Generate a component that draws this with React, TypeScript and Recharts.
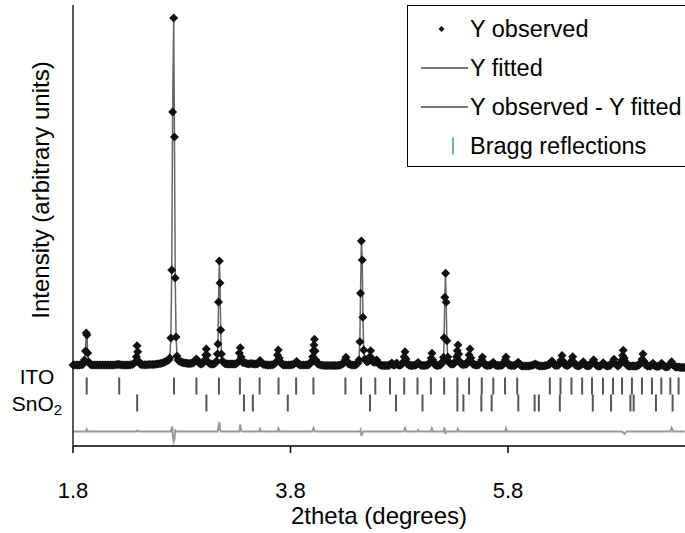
import { ComposedChart, Line, Scatter, XAxis, YAxis, Legend, Label } from 'recharts';

// observed pattern, [2theta (deg), intensity]
const observed: [number, number][] = [
  [1.8, 10], [1.815, 10], [1.83, 10], [1.845, 10], [1.86, 10], [1.875, 12], [1.89, 15], [1.898, 30],
  [1.905, 60], [1.915, 150], [1.922, 330], [1.928, 310], [1.935, 130], [1.945, 40], [1.955, 20], [1.965, 12],
  [1.98, 10], [1.995, 10], [2.01, 10], [2.025, 10], [2.04, 10], [2.055, 10], [2.07, 10], [2.085, 10],
  [2.1, 10], [2.115, 10], [2.13, 10], [2.145, 10], [2.16, 10], [2.175, 10], [2.19, 12], [2.205, 15],
  [2.215, 15], [2.225, 15], [2.24, 12], [2.255, 10], [2.27, 10], [2.285, 10], [2.3, 10], [2.315, 10],
  [2.33, 12], [2.345, 15], [2.36, 25], [2.375, 40], [2.383, 93], [2.389, 203], [2.395, 143], [2.403, 50],
  [2.414, 25], [2.425, 15], [2.44, 12], [2.455, 12], [2.47, 12], [2.485, 12], [2.5, 14], [2.515, 15],
  [2.53, 15], [2.545, 15], [2.56, 18], [2.575, 20], [2.59, 22], [2.605, 25], [2.62, 30], [2.635, 35],
  [2.648, 42], [2.66, 50], [2.67, 55], [2.68, 60], [2.69, 80], [2.7, 280], [2.708, 960], [2.716, 2540],
  [2.726, 3480], [2.733, 2290], [2.74, 880], [2.748, 290], [2.756, 100], [2.766, 60], [2.775, 50], [2.785, 45],
  [2.795, 40], [2.805, 35], [2.818, 32], [2.83, 30], [2.843, 28], [2.855, 25], [2.868, 25], [2.88, 25],
  [2.893, 28], [2.905, 30], [2.913, 40], [2.92, 50], [2.928, 60], [2.935, 70], [2.943, 55], [2.95, 40],
  [2.963, 28], [2.975, 20], [2.987, 25], [2.998, 30], [3.005, 45], [3.012, 60], [3.02, 110], [3.026, 170],
  [3.033, 110], [3.042, 40], [3.053, 28], [3.065, 20], [3.078, 20], [3.09, 20], [3.1, 25], [3.11, 30],
  [3.12, 50], [3.128, 120], [3.133, 220], [3.138, 640], [3.146, 1050], [3.152, 830], [3.158, 360], [3.165, 120],
  [3.175, 50], [3.185, 35], [3.195, 25], [3.208, 22], [3.22, 20], [3.233, 20], [3.245, 20], [3.258, 20],
  [3.27, 20], [3.283, 20], [3.295, 20], [3.307, 28], [3.318, 40], [3.33, 130], [3.338, 183], [3.346, 90],
  [3.353, 55], [3.36, 35], [3.373, 32], [3.385, 30], [3.398, 25], [3.41, 20], [3.425, 22], [3.44, 25],
  [3.453, 22], [3.465, 20], [3.48, 20], [3.495, 20], [3.503, 30], [3.51, 40], [3.52, 55], [3.53, 30],
  [3.543, 22], [3.555, 15], [3.57, 12], [3.585, 10], [3.6, 10], [3.615, 10], [3.63, 12], [3.645, 15],
  [3.657, 25], [3.668, 40], [3.68, 110], [3.688, 160], [3.696, 80], [3.703, 50], [3.71, 30], [3.723, 18],
  [3.735, 10], [3.75, 10], [3.765, 10], [3.78, 10], [3.795, 10], [3.81, 12], [3.825, 15], [3.837, 25],
  [3.848, 35], [3.857, 45], [3.866, 25], [3.878, 15], [3.89, 10], [3.905, 10], [3.92, 10], [3.935, 10],
  [3.95, 10], [3.963, 12], [3.975, 15], [3.985, 30], [3.995, 50], [4.004, 93], [4.01, 153], [4.016, 210],
  [4.02, 267], [4.026, 150], [4.033, 60], [4.042, 35], [4.05, 20], [4.065, 15], [4.08, 10], [4.095, 8],
  [4.11, 5], [4.125, 5], [4.14, 5], [4.155, 5], [4.17, 5], [4.185, 5], [4.2, 5], [4.215, 5],
  [4.23, 5], [4.245, 8], [4.26, 10], [4.275, 18], [4.29, 30], [4.303, 60], [4.31, 87], [4.318, 50],
  [4.327, 30], [4.335, 20], [4.35, 15], [4.365, 10], [4.38, 10], [4.395, 10], [4.408, 18], [4.42, 30],
  [4.43, 60], [4.438, 243], [4.444, 727], [4.452, 1250], [4.46, 1060], [4.466, 487], [4.474, 160], [4.484, 70],
  [4.492, 55], [4.5, 45], [4.51, 45], [4.52, 50], [4.53, 93], [4.537, 153], [4.545, 80], [4.552, 55],
  [4.56, 40], [4.57, 38], [4.58, 40], [4.593, 60], [4.605, 30], [4.615, 18], [4.625, 10], [4.638, 8],
  [4.65, 5], [4.663, 5], [4.675, 5], [4.688, 5], [4.7, 5], [4.71, 10], [4.72, 15], [4.731, 30],
  [4.745, 10], [4.755, 10], [4.765, 15], [4.777, 30], [4.79, 10], [4.803, 8], [4.815, 10], [4.827, 22],
  [4.838, 40], [4.846, 93], [4.853, 143], [4.861, 70], [4.868, 40], [4.875, 20], [4.888, 10], [4.9, 5],
  [4.913, 5], [4.925, 5], [4.938, 8], [4.95, 10], [4.958, 15], [4.965, 25], [4.975, 35], [4.988, 15],
  [5.0, 8], [5.01, 5], [5.023, 5], [5.035, 5], [5.048, 8], [5.06, 10], [5.071, 20], [5.082, 35],
  [5.094, 77], [5.101, 127], [5.109, 60], [5.117, 30], [5.125, 15], [5.138, 8], [5.15, 5], [5.163, 8],
  [5.175, 10], [5.185, 18], [5.195, 30], [5.203, 50], [5.208, 87], [5.213, 283], [5.219, 687], [5.226, 927],
  [5.232, 637], [5.238, 253], [5.246, 90], [5.256, 40], [5.265, 28], [5.275, 20], [5.288, 20], [5.3, 20],
  [5.31, 32], [5.32, 50], [5.328, 93], [5.334, 153], [5.34, 210], [5.346, 120], [5.354, 50], [5.362, 30],
  [5.37, 20], [5.383, 16], [5.395, 15], [5.408, 18], [5.42, 20], [5.428, 32], [5.435, 50], [5.443, 110],
  [5.451, 170], [5.459, 80], [5.467, 40], [5.475, 20], [5.488, 14], [5.5, 10], [5.513, 10], [5.525, 10],
  [5.535, 18], [5.545, 30], [5.558, 60], [5.565, 90], [5.573, 40], [5.582, 20], [5.59, 10], [5.603, 7],
  [5.615, 5], [5.628, 7], [5.64, 10], [5.648, 15], [5.655, 25], [5.665, 37], [5.678, 15], [5.689, 8],
  [5.7, 5], [5.713, 5], [5.725, 5], [5.738, 8], [5.75, 10], [5.759, 22], [5.768, 40], [5.775, 60],
  [5.782, 90], [5.79, 40], [5.799, 20], [5.808, 10], [5.822, 7], [5.835, 5], [5.848, 5], [5.86, 5],
  [5.871, 12], [5.882, 25], [5.895, 37], [5.908, 15], [5.919, 5], [5.93, 0], [5.945, 0], [5.96, 0],
  [5.975, 0], [5.99, 0], [6.005, 2], [6.02, 5], [6.03, 10], [6.04, 15], [6.053, 20], [6.066, 10],
  [6.078, 4], [6.09, 0], [6.105, 0], [6.12, 0], [6.135, 2], [6.15, 5], [6.165, 10], [6.18, 15],
  [6.188, 25], [6.195, 35], [6.205, 50], [6.218, 20], [6.229, 10], [6.24, 5], [6.253, 7], [6.265, 10],
  [6.274, 22], [6.282, 40], [6.29, 60], [6.297, 105], [6.305, 50], [6.313, 28], [6.32, 15], [6.333, 8],
  [6.345, 5], [6.358, 10], [6.372, 20], [6.38, 35], [6.388, 55], [6.395, 93], [6.403, 40], [6.412, 22],
  [6.42, 10], [6.433, 4], [6.445, 0], [6.458, 5], [6.47, 10], [6.478, 20], [6.485, 30], [6.493, 43],
  [6.505, 15], [6.518, 5], [6.53, 0], [6.543, 2], [6.555, 5], [6.565, 20], [6.575, 40], [6.588, 63],
  [6.6, 25], [6.613, 8], [6.625, 0], [6.638, 0], [6.65, 0], [6.66, 10], [6.668, 20], [6.676, 33],
  [6.69, 10], [6.703, 3], [6.715, 0], [6.728, 2], [6.74, 5], [6.751, 20], [6.762, 40], [6.775, 67],
  [6.788, 25], [6.799, 10], [6.81, 0], [6.821, 8], [6.832, 20], [6.84, 38], [6.848, 60], [6.854, 105],
  [6.86, 157], [6.868, 80], [6.874, 50], [6.88, 30], [6.893, 10], [6.905, 0], [6.918, 0], [6.93, 0],
  [6.943, 0], [6.955, 0], [6.968, 0], [6.98, 0], [6.993, 5], [7.005, 10], [7.015, 22], [7.025, 40],
  [7.034, 67], [7.041, 120], [7.049, 50], [7.055, 30], [7.062, 15], [7.074, 5], [7.085, 0], [7.098, 0],
  [7.11, 0], [7.118, 8], [7.125, 15], [7.133, 27], [7.145, 5], [7.158, 0], [7.17, -5], [7.183, -3],
  [7.195, 0], [7.205, 15], [7.213, 27], [7.225, 5], [7.238, -3], [7.25, -10], [7.263, -8], [7.275, -5],
  [7.285, 10], [7.295, 25], [7.305, 43], [7.318, 10], [7.329, 0], [7.34, -10], [7.353, -10], [7.365, -10],
  [7.378, -12], [7.39, -15], [7.4, -15], [7.41, -15], [7.425, -15],
];

// Y observed - Y fitted
const difference: [number, number][] = [
  [1.8, 0], [1.92, 0], [1.926, 20], [1.935, 0], [2.38, 0], [2.39, 10], [2.4, 0], [2.7, 0],
  [2.712, 50], [2.72, -60], [2.726, -100], [2.733, -80], [2.74, 10], [2.75, 0], [3.13, 0], [3.14, 60],
  [3.146, 95], [3.152, 20], [3.16, 0], [3.33, 0], [3.338, 70], [3.346, 10], [3.355, 0], [3.51, 0],
  [3.52, 25], [3.53, 0], [3.68, 0], [3.69, 30], [3.7, 0], [4.0, 0], [4.012, 35], [4.025, 0],
  [4.44, 0], [4.446, 15], [4.452, -45], [4.46, -20], [4.47, 0], [4.84, 0], [4.853, 35], [4.865, 0],
  [4.965, 0], [4.975, 15], [4.985, 0], [5.09, 0], [5.1, 30], [5.11, 0], [5.208, 0], [5.215, 40],
  [5.224, -25], [5.232, 0], [5.33, 0], [5.338, 25], [5.35, 0], [5.775, 0], [5.782, 30], [5.79, 0],
  [6.85, 0], [6.872, -25], [6.89, 0], [7.295, 0], [7.305, 35], [7.32, 0], [7.425, 0],
];

const itoReflections = [
  1.926, 2.225, 2.729, 2.935, 3.142, 3.335, 3.516, 3.69, 3.852, 4.011, 4.305, 4.449, 4.58, 4.715,
  4.846, 4.968, 5.091, 5.213, 5.335, 5.442, 5.559, 5.665, 5.773, 5.885, 6.185, 6.283, 6.384, 6.482,
  6.573, 6.674, 6.766, 6.849, 6.94, 7.032, 7.124, 7.21, 7.293, 7.369,
];
const sno2Reflections = [
  2.39, 3.027, 3.372, 3.454, 3.775, 4.531, 4.77, 5.014, 5.335, 5.39, 5.555, 5.65, 5.895, 6.045,
  6.084, 6.277, 6.58, 6.748, 6.926, 6.956, 7.161, 7.314,
];

const xTicks = [1.8, 3.8, 5.8];
const phaseNames = ['ITO', 'SnO2'];
const legendNames = ['Y observed', 'Y fitted', 'Y observed - Y fitted', 'Bragg reflections'];

const FONT = 'Arial, "Liberation Sans", Helvetica, sans-serif';
const ITO_ROW = -200;
const SNO2_ROW = -370;
const DIFF_BASE = -655;

const obsRows = observed.map(([x, y]) => ({ x, y }));
const diffRows = difference.map(([x, d]) => ({ x, y: DIFF_BASE + d }));
const itoRows = itoReflections.map((x) => ({ x, y: ITO_ROW }));
const sno2Rows = sno2Reflections.map((x) => ({ x, y: SNO2_ROW }));
const phaseTicks = [ITO_ROW + 100, SNO2_ROW];

const Diamond = (p: any) => {
  const { cx, cy } = p;
  const r = 4.5;
  return <path d={`M${cx},${cy - r}L${cx + r},${cy}L${cx},${cy + r}L${cx - r},${cy}Z`} fill="#111" />;
};

const BraggTick = (p: any) => (
  <line x1={p.cx} x2={p.cx} y1={p.cy - 8.5} y2={p.cy + 8.5} stroke="#555" strokeWidth={2} />
);

const PhaseTick = (p: any) => {
  const name = phaseNames[p.index] ?? '';
  const m = name.match(/^(\D+)(\d*)$/);
  return (
    <text x={37} y={p.y} textAnchor="middle" dominantBaseline="central" fontSize={21} fill="#000" fontFamily={FONT}>
      {m ? m[1] : name}
      {m && m[2] ? <tspan fontSize={15} dy={6}>{m[2]}</tspan> : null}
    </text>
  );
};

function legendIcon(i: number) {
  if (i === 0) return <path d="M33.5,10 L36.5,13 L33.5,16 L30.5,13 Z" fill="#111" />;
  if (i === 3) return <line x1={45} x2={45} y1={4.5} y2={21.5} stroke="#3aa35f" strokeWidth={1.5} />;
  return <line x1={13} x2={60} y1={13} y2={13} stroke="#777" strokeWidth={2} />;
}

const LegendBox = () => (
  <div style={{ width: 300, height: 162, border: '1px solid #000', background: '#fff', boxSizing: 'border-box', position: 'relative', fontFamily: FONT, fontSize: 23.5, color: '#000' }}>
    {legendNames.map((name, i) => (
      <div key={name} style={{ position: 'absolute', left: 0, top: 10 + i * 39, height: 26, display: 'flex', alignItems: 'center', whiteSpace: 'nowrap' }}>
        <svg width={62} height={26}>{legendIcon(i)}</svg>
        <span>{name}</span>
      </div>
    ))}
  </div>
);

export default function App() {
  return (
    <div style={{ position: 'absolute', left: 0, top: 0, width: 685, height: 533, overflow: 'hidden', background: '#fff', fontFamily: FONT }}>
      <ComposedChart width={685} height={533} margin={{ top: 5, right: 0, bottom: 0, left: 0 }}>
        <XAxis
          dataKey="x"
          type="number"
          domain={[1.8, 7.428]}
          ticks={xTicks}
          tickFormatter={(v: number) => v.toFixed(1)}
          tickSize={7}
          tickMargin={29}
          height={87}
          axisLine={{ stroke: '#000', strokeWidth: 1.5 }}
          tickLine={{ stroke: '#000', strokeWidth: 1.5 }}
          tick={{ fill: '#000', fontSize: 22, fontFamily: FONT }}
        >
          <Label value="2theta (degrees)" position="insideBottom" offset={9} style={{ fontSize: 24, fill: '#000', fontFamily: FONT }} />
        </XAxis>
        <XAxis
          xAxisId="top"
          orientation="top"
          dataKey="x"
          type="number"
          domain={[1.8, 7.428]}
          height={0}
          tick={false}
          tickLine={false}
          axisLine={{ stroke: '#999', strokeWidth: 1.5 }}
        />
        <YAxis
          type="number"
          domain={[-800, 3610]}
          width={73}
          ticks={phaseTicks}
          interval={0}
          tickLine={false}
          tick={<PhaseTick />}
          axisLine={{ stroke: '#222', strokeWidth: 1.5 }}
        >
          <Label
            content={() => (
              <text x={40} y={190} transform="rotate(-90 40 190)" textAnchor="middle" dominantBaseline="central" fontSize={24} fill="#000" fontFamily={FONT}>
                Intensity (arbitrary units)
              </text>
            )}
          />
        </YAxis>
        <Legend
          layout="horizontal"
          verticalAlign="middle"
          align="center"
          wrapperStyle={{ left: 407, top: 5, width: 300 }}
          content={() => <LegendBox />}
        />
        <Line data={diffRows} dataKey="y" name="Y observed - Y fitted" stroke="#999" strokeWidth={2} dot={false} isAnimationActive={false} />
        <Line data={obsRows} dataKey="y" name="Y fitted" stroke="#666" strokeWidth={1.5} dot={false} isAnimationActive={false} />
        <Scatter data={obsRows} dataKey="y" name="Y observed" shape={Diamond} isAnimationActive={false} />
        <Scatter data={itoRows} dataKey="y" name="Bragg reflections" shape={BraggTick} isAnimationActive={false} />
        <Scatter data={sno2Rows} dataKey="y" legendType="none" shape={BraggTick} isAnimationActive={false} />
      </ComposedChart>
    </div>
  );
}
